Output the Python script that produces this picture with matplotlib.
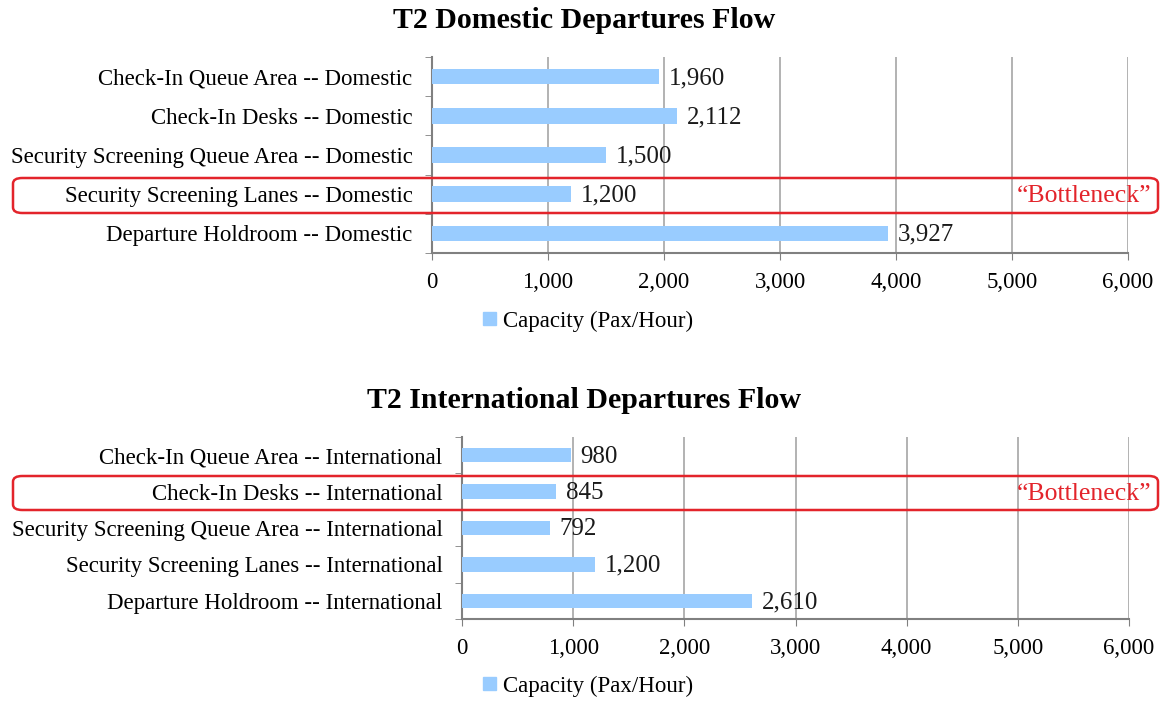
import matplotlib
matplotlib.use("Agg")
import matplotlib.pyplot as plt
import numpy as np
from matplotlib.patches import FancyBboxPatch, Patch

plt.rcParams['font.family'] = ['Liberation Serif', 'DejaVu Serif']

# capacity (pax/hour) per processing area
dom_labels = ["Check-In Queue Area -- Domestic",
              "Check-In Desks -- Domestic",
              "Security Screening Queue Area -- Domestic",
              "Security Screening Lanes -- Domestic",
              "Departure Holdroom -- Domestic"]
dom_values = [1960, 2112, 1500, 1200, 3927]

intl_labels = ["Check-In Queue Area -- International",
               "Check-In Desks -- International",
               "Security Screening Queue Area -- International",
               "Security Screening Lanes -- International",
               "Departure Holdroom -- International"]
intl_values = [980, 845, 792, 1200, 2610]

x_ticks = [0, 1000, 2000, 3000, 4000, 5000, 6000]

bar_color = "#99CCFF"
grid_color = "#A6A6A6"
red = "#E3242B"

W, H = 1161, 702
fig = plt.figure(figsize=(W / 100, H / 100), dpi=100)


def px_rect(left, top, right, bottom):
    return [left / W, 1 - bottom / H, (right - left) / W, (bottom - top) / H]


def draw_panel(rect, title, title_y, labels, values, box, legend_y):
    ax = fig.add_axes(rect)
    y = np.arange(len(labels))
    ax.barh(y, values, height=0.4, color=bar_color, zorder=3)
    ax.set_ylim(len(labels) - 0.5, -0.5)
    ax.set_xlim(0, 6000)
    ax.set_yticks(y)
    ax.set_yticklabels(labels, fontsize=16.5)
    ax.set_yticks(np.arange(len(labels) + 1) - 0.5, minor=True)
    ax.tick_params(axis='y', which='major', length=0, pad=14)
    ax.tick_params(axis='y', which='minor', length=5, color="#808080", direction='out')
    ax.set_xticks(x_ticks)
    ax.set_xticklabels([f"{v:,}" for v in x_ticks], fontsize=16.5)
    ax.tick_params(axis='x', length=5, color="#808080", pad=9)
    ax.grid(axis='x', color=grid_color, lw=1.2, zorder=0)
    for s in ['top', 'right']:
        ax.spines[s].set_visible(False)
    for s in ['left', 'bottom']:
        ax.spines[s].set_color("#808080")
        ax.spines[s].set_linewidth(1.5)
    for yi, v in zip(y, values):
        ax.annotate(f"{v:,}", (v, yi), xytext=(7, -1), textcoords='offset points',
                    va='center', ha='left', fontsize=18, color="#1a1a1a", zorder=4)

    fig.text(584 / W, 1 - title_y / H, title, ha='center', va='center',
             fontsize=21.5, fontweight='bold')

    # highlight frame around the limiting process
    l, t, r, b = box
    patch = FancyBboxPatch((l / W, 1 - b / H), (r - l) / W, (b - t) / H,
                           boxstyle="round,pad=0,rounding_size=0.008",
                           transform=fig.transFigure, fill=False,
                           edgecolor=red, lw=1.8, zorder=10)
    fig.patches.append(patch)
    fig.text(1151 / W, 1 - ((t + b) / 2 + 1) / H, "\u201cBottleneck\u201d", ha='right',
             va='center', fontsize=18.5, color=red)

    fig.legend(handles=[Patch(color=bar_color, label="Capacity (Pax/Hour)")],
               loc='center', bbox_to_anchor=(588 / W, 1 - legend_y / H),
               frameon=False, fontsize=16.5, handlelength=0.55, handleheight=0.55,
               handletextpad=0.3)
    return ax


draw_panel(px_rect(432, 57, 1128, 253), "T2 Domestic Departures Flow", 20,
           dom_labels, dom_values, (13, 178, 1158, 213), 321)
draw_panel(px_rect(462, 437, 1129, 619), "T2 International Departures Flow", 400,
           intl_labels, intl_values, (13, 476, 1158, 510), 686)

fig.savefig("out.png", dpi=100, facecolor="white")
